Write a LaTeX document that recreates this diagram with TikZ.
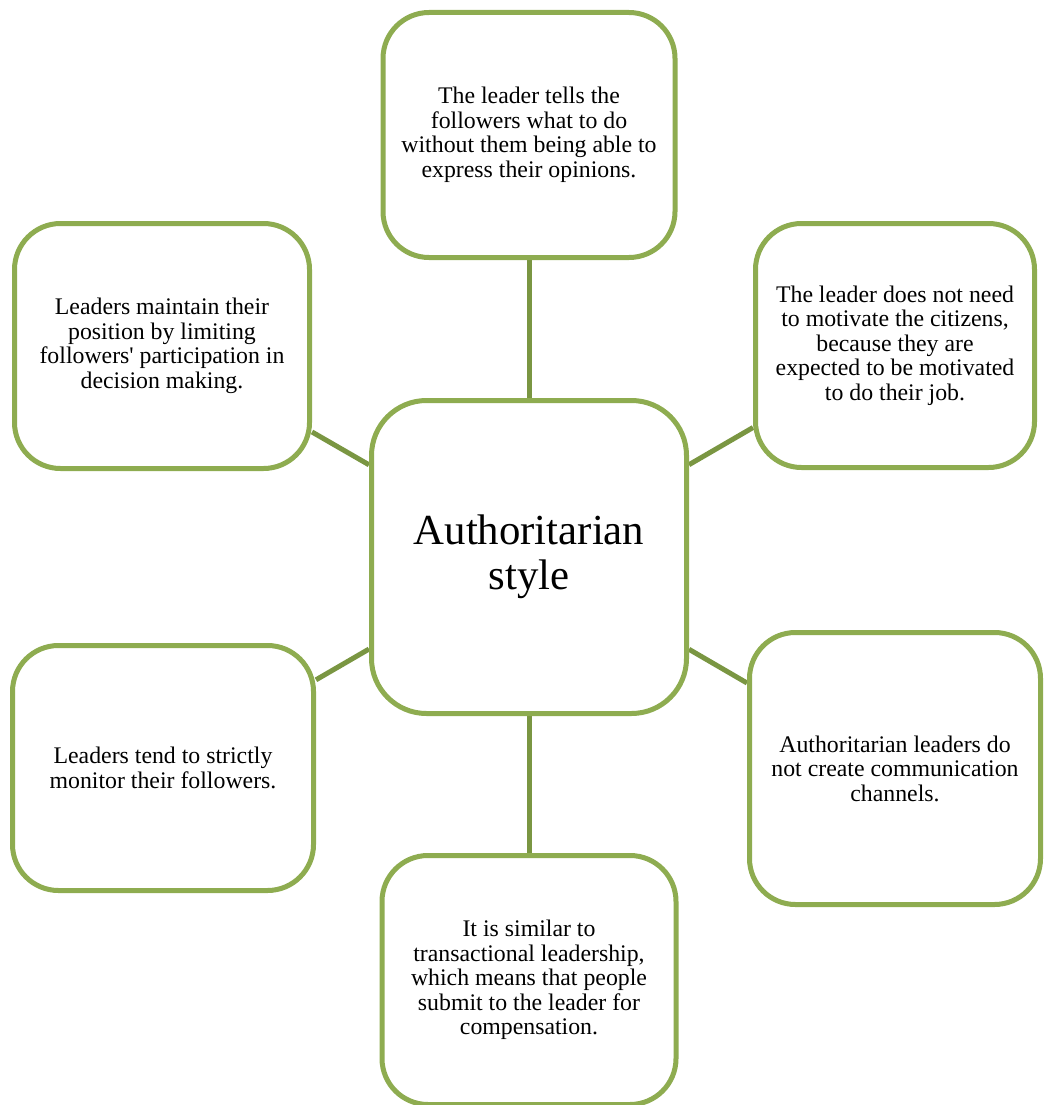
\documentclass[tikz,border=0pt]{standalone}
\usepackage{fontspec}
\setmainfont{Liberation Serif}
\usetikzlibrary{backgrounds}
\definecolor{boxgreen}{HTML}{8EAC50}
\definecolor{linkgreen}{HTML}{7A9642}
\tikzset{
  leafbox/.style={draw=boxgreen, line width=5pt, fill=white, rounded corners=46pt,
    align=center, inner sep=0pt,
    font=\fontsize{23.8pt}{24.5pt}\selectfont},
  hubbox/.style={leafbox, rounded corners=55pt, font=\fontsize{42.8pt}{45pt}\selectfont},
  link/.style={draw=linkgreen, line width=5pt}
}
\begin{document}
\begin{tikzpicture}[x=1pt,y=-1pt]
\useasboundingbox (0,0) rectangle (1052,1105);
\clip (0,0) rectangle (1052,1105);
\node[hubbox, minimum width=315pt, minimum height=313pt] (c) at (529,557)
  {Authoritarian\\style};
\node[leafbox, minimum width=292pt, minimum height=245pt] (t) at (529,135)
  {The leader tells the\\followers what to do\\without them being able to\\express their opinions.};
\node[leafbox, minimum width=279pt, minimum height=244pt] (tr) at (895,345.5)
  {The leader does not need\\to motivate the citizens,\\because they are\\expected to be motivated\\to do their job.};
\node[leafbox, minimum width=295pt, minimum height=245pt] (lt) at (162,346)
  {Leaders maintain their\\position by limiting\\followers\textquotesingle{} participation in\\decision making.};
\node[leafbox, minimum width=301pt, minimum height=245pt] (lb) at (163,768)
  {Leaders tend to strictly\\monitor their followers.};
\node[leafbox, minimum width=291pt, minimum height=272pt] (rb) at (895,768.5)
  {Authoritarian leaders do\\not create communication\\channels.};
\node[leafbox, minimum width=294pt, minimum height=249pt] (b) at (529,980)
  {It is similar to\\transactional leadership,\\which means that people\\submit to the leader for\\compensation.};
\begin{scope}[on background layer]
\draw[link] (c) -- (t);
\draw[link] (c) -- (tr);
\draw[link] (c) -- (lt);
\draw[link] (c) -- (lb);
\draw[link] (c) -- (rb);
\draw[link] (c) -- (b);
\end{scope}
\end{tikzpicture}
\end{document}
